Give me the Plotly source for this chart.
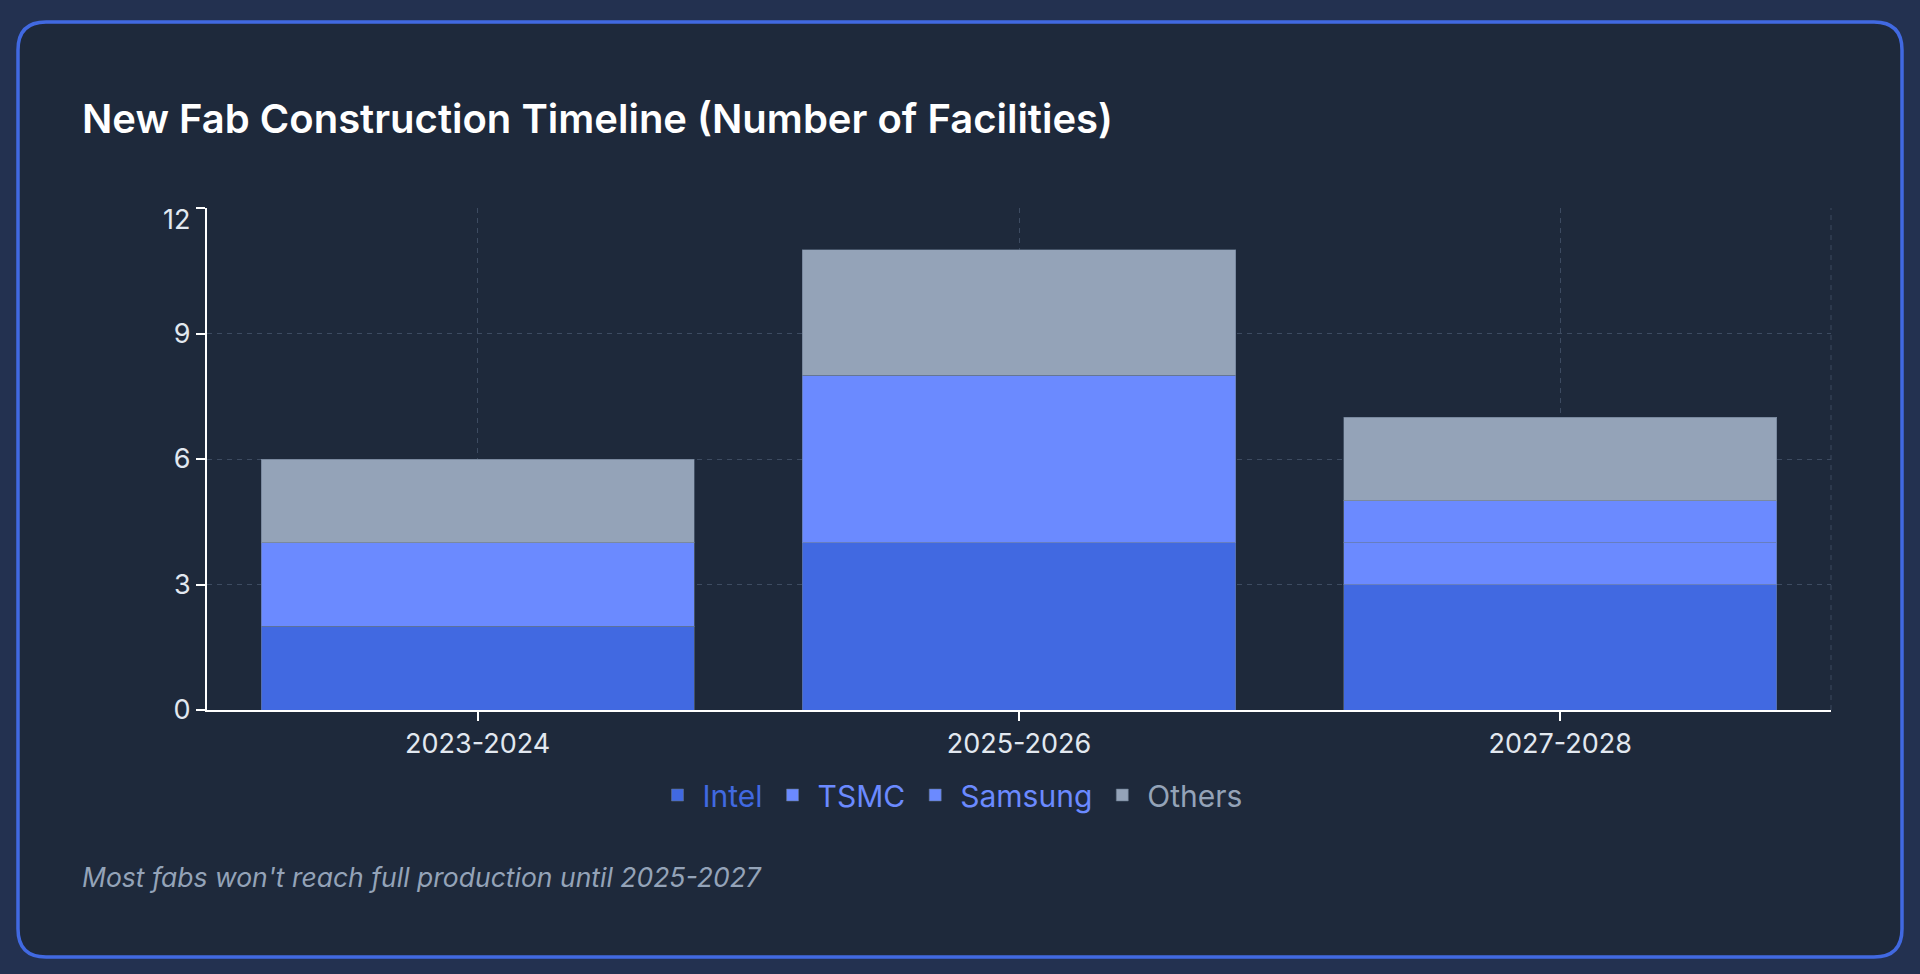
import plotly.graph_objects as go

# ---- data ----
periods = ["2023-2024", "2025-2026", "2027-2028"]
intel = [2, 4, 3]
tsmc = [2, 4, 1]
samsung = [0, 0, 1]
others = [2, 3, 2]
y_ticks = [0, 3, 6, 9, 12]
y_tick_labels = ["0", "3", "6", "9", "12"]

series_names = ["Intel", "TSMC", "Samsung", "Others"]
series_values = [intel, tsmc, samsung, others]
series_colors = ["#4169e1", "#6b8aff", "#6b8aff", "#94a3b8"]

W, H = 1920, 974
ML, MR, MT, MB = 207, 89, 208, 264
PW = W - ML - MR
PH = H - MT - MB


def px2x(px):
    return (px - ML) / PW


def py2y(py):
    return (H - MB - py) / PH


fig = go.Figure()
for name, vals, col in zip(series_names, series_values, series_colors):
    fig.add_trace(go.Bar(
        x=periods, y=vals,
        name=f'<span style="color:{col}">{name}</span>',
        marker=dict(color=col, line=dict(color="rgba(100,116,139,0.55)", width=1)),
    ))

# card background with rounded corners
L, R, T, B, r = 18, 1902, 22, 957, 28
xs = lambda v: f"{px2x(v):.5f}"
ys = lambda v: f"{py2y(v):.5f}"
path = (
    f"M {xs(L + r)},{ys(T)} L {xs(R - r)},{ys(T)} Q {xs(R)},{ys(T)} {xs(R)},{ys(T + r)} "
    f"L {xs(R)},{ys(B - r)} Q {xs(R)},{ys(B)} {xs(R - r)},{ys(B)} "
    f"L {xs(L + r)},{ys(B)} Q {xs(L)},{ys(B)} {xs(L)},{ys(B - r)} "
    f"L {xs(L)},{ys(T + r)} Q {xs(L)},{ys(T)} {xs(L + r)},{ys(T)} Z"
)
grid_col = "#3d4b61"
shapes = [
    dict(type="path", xref="paper", yref="paper", path=path,
         fillcolor="#1e293b", line=dict(color="#4169e1", width=3.5), layer="below"),
    dict(type="line", xref="paper", yref="paper", x0=1, x1=1, y0=0, y1=1,
         line=dict(color=grid_col, width=1, dash="5px,5px"), layer="below"),
]

annotations = [
    dict(text="New Fab Construction Timeline (Number of Facilities)",
         xref="paper", yref="paper", x=px2x(80), y=py2y(119),
         xanchor="left", yanchor="middle", showarrow=False,
         font=dict(family="Inter", size=40, color="#ffffff", weight=600)),
    dict(text="<i>Most fabs won't reach full production until 2025-2027</i>",
         xref="paper", yref="paper", x=px2x(80), y=py2y(877),
         xanchor="left", yanchor="middle", showarrow=False,
         font=dict(family="Inter", size=26.5, color="#94a3b8")),
    # top y tick label sits just below its tick (as in the reference)
    dict(text=y_tick_labels[-1], xref="paper", yref="y", x=0, y=y_ticks[-1],
         xanchor="right", yanchor="middle", xshift=-15, yshift=-11, showarrow=False,
         font=dict(family="Inter", size=27, color="#e2e8f0")),
]

axis_common = dict(
    showline=True, linecolor="#ffffff", linewidth=2,
    ticks="outside", ticklen=9, tickcolor="#ffffff", tickwidth=2,
    showgrid=True, gridcolor=grid_col, griddash="5px,5px", gridwidth=1,
    tickfont=dict(size=27, color="#e2e8f0"), zeroline=False,
)

fig.update_layout(
    width=W, height=H,
    margin=dict(l=ML, r=MR, t=MT, b=MB),
    paper_bgcolor="#233150",
    plot_bgcolor="rgba(0,0,0,0)",
    barmode="stack",
    bargap=0.2,
    font=dict(family="Inter", color="#e2e8f0"),
    shapes=shapes,
    annotations=annotations,
    showlegend=True,
    legend=dict(orientation="h", traceorder="normal", x=px2x(950), xanchor="center",
                y=py2y(795), yanchor="middle", itemwidth=40,
                font=dict(family="Inter", size=30),
                bgcolor="rgba(0,0,0,0)", itemclick=False, itemdoubleclick=False),
    xaxis=dict(**axis_common),
    yaxis=dict(range=[0, 12], tickvals=y_ticks,
               ticktext=y_tick_labels[:-1] + [""], **axis_common),
)

fig.write_html(
    "out.html",
    config={"displayModeBar": False},
    post_script="document.body.style.margin='0';document.body.style.background='#233150';",
)
